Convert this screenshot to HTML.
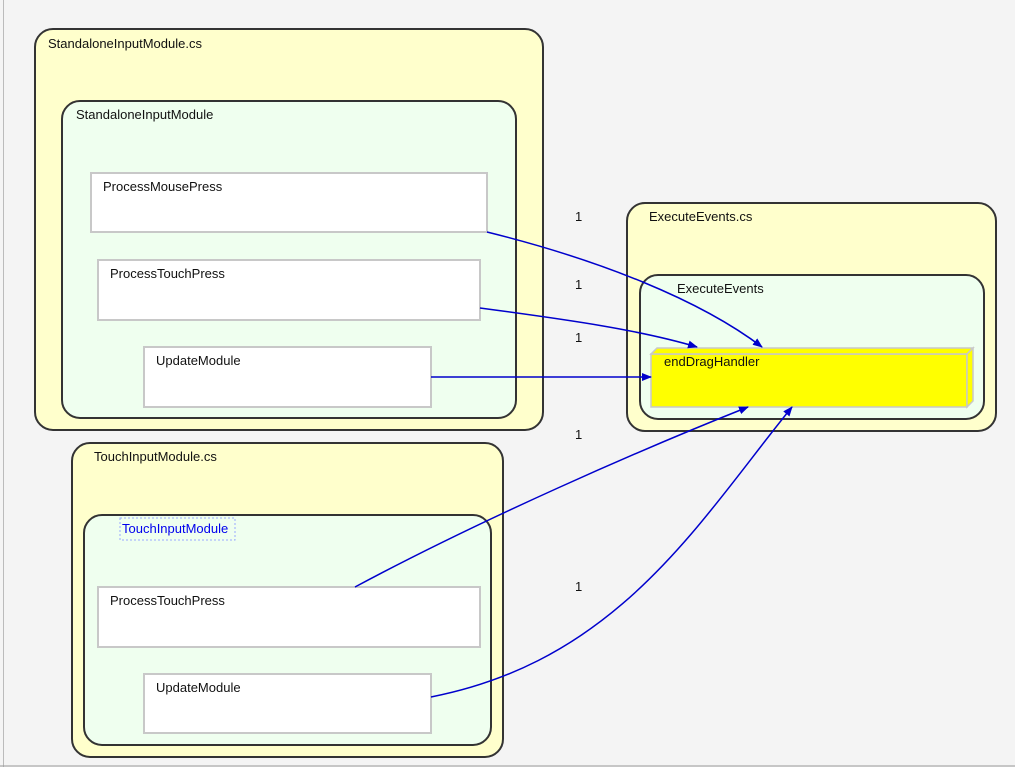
<!DOCTYPE html>
<html><head><style>body{margin:0;background:#f4f4f4;}svg{display:block;font-family:"Liberation Sans",sans-serif;font-size:13px;}</style></head>
<body>
<svg width="1015" height="767" viewBox="0 0 1015 767">
<defs><marker id="a" markerWidth="10" markerHeight="8" refX="9" refY="4" orient="auto" markerUnits="userSpaceOnUse"><path d="M0,0 L10,4 L0,8 z" fill="#0000cc"/></marker></defs>
<rect x="0" y="0" width="1015" height="767" fill="#f4f4f4"/>
<line x1="3.5" y1="0" x2="3.5" y2="767" stroke="#bbb"/>
<line x1="0" y1="766" x2="1015" y2="766" stroke="#999"/>
<g stroke="#333" stroke-width="2">
<rect x="35" y="29" width="508" height="401" rx="18" fill="#ffffcc"/>
<rect x="62" y="101" width="454" height="317" rx="18" fill="#efffef"/>
<rect x="627" y="203" width="369" height="228" rx="18" fill="#ffffcc"/>
<rect x="640" y="275" width="344" height="144" rx="18" fill="#efffef"/>
<rect x="72" y="443" width="431" height="314" rx="18" fill="#ffffcc"/>
<rect x="84" y="515" width="407" height="230" rx="18" fill="#efffef"/>
</g>
<g fill="#fff" stroke="#c8c8c8" stroke-width="2">
<rect x="91" y="173" width="396" height="59"/>
<rect x="98" y="260" width="382" height="60"/>
<rect x="144" y="347" width="287" height="60"/>
<rect x="98" y="587" width="382" height="60"/>
<rect x="144" y="674" width="287" height="59"/>
</g>
<g fill="#ffff00" stroke="#c8c8c8" stroke-width="1.5">
<rect x="651" y="354" width="316" height="53"/>
<path d="M651,354 L657,348 L973,348 L967,354 z"/>
<path d="M967,354 L973,348 L973,401 L967,407 z"/>
</g>
<rect x="120" y="518" width="115" height="22" fill="none" stroke="#99aaff" stroke-dasharray="2,2"/>
<g fill="#111">
<text x="48" y="48">StandaloneInputModule.cs</text>
<text x="76" y="119">StandaloneInputModule</text>
<text x="103" y="191">ProcessMousePress</text>
<text x="110" y="278">ProcessTouchPress</text>
<text x="156" y="365">UpdateModule</text>
<text x="649" y="221">ExecuteEvents.cs</text>
<text x="677" y="293">ExecuteEvents</text>
<text x="664" y="366">endDragHandler</text>
<text x="94" y="461">TouchInputModule.cs</text>
<text x="110" y="605">ProcessTouchPress</text>
<text x="156" y="692">UpdateModule</text>
<text x="575" y="221">1</text>
<text x="575" y="289">1</text>
<text x="575" y="342">1</text>
<text x="575" y="439">1</text>
<text x="575" y="591">1</text>
</g>
<text x="122" y="533" fill="#0000ee">TouchInputModule</text>
<g fill="none" stroke="#0000cc" stroke-width="1.5" marker-end="url(#a)">
<path d="M487,232 C600,260 700,300 762,347"/>
<path d="M480,308 C570,320 640,330 697,347"/>
<path d="M431,377 L651,377"/>
<path d="M355,587 C480,520 640,450 748,407"/>
<path d="M431,697 C620,660 700,520 792,407"/>
</g>
</svg>
</body></html>
